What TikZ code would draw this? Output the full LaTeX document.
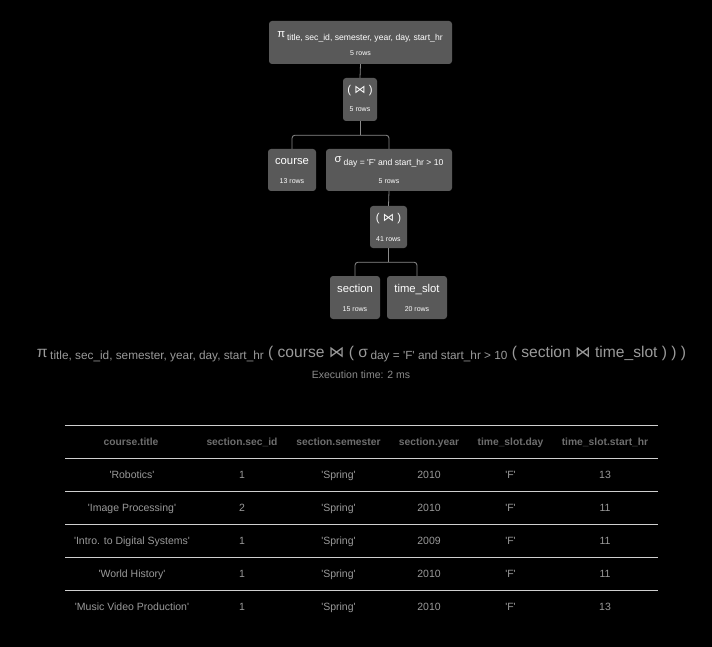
\documentclass[tikz,border=0pt]{standalone}
\usepackage{fontspec}
\usetikzlibrary{calc}
\setmainfont{Liberation Sans}[Ligatures=TeXOff]
\newfontfamily\dv{DejaVu Sans}
\newcommand{\sq}{'}
\newcommand{\bt}{{\dv ⋈}}
\definecolor{boxc}{HTML}{595959}
\definecolor{connc}{HTML}{8A8A8A}
\definecolor{exprc}{HTML}{9A9A9A}
\definecolor{execc}{HTML}{8C8C8C}
\definecolor{headc}{HTML}{6E6E6E}
\definecolor{cellc}{HTML}{9A9A9A}
\definecolor{rulec}{HTML}{CFCFCF}
\tikzset{
  opbox/.style={fill=boxc, draw=none, rounded corners=3pt, inner sep=0pt},
  ttl/.style={text=white, anchor=base, inner sep=0pt, font=\fontsize{11.3}{12}\selectfont},
  rws/.style={text=white, anchor=base, inner sep=0pt, font=\fontsize{7}{8}\selectfont},
  conn/.style={draw=connc, line width=0.8pt, rounded corners=3pt},
  hd/.style={text=headc, anchor=base, inner sep=0pt, font=\fontsize{10.3}{12}\selectfont\bfseries},
  cl/.style={text=cellc, anchor=base, inner sep=0pt, font=\fontsize{10.5}{12}\selectfont},
  rl/.style={draw=rulec, line width=0.8pt},
}
\begin{document}
\begin{tikzpicture}[x=1pt,y=-1pt]
\useasboundingbox (0,0) rectangle (712,647);
\fill[black] (0,0) rectangle (712,647);
% boxes
\node[opbox, minimum width=183pt, minimum height=43pt] (root) at (360.5,42.5) {};
\node[opbox, minimum width=34pt, minimum height=43pt] (j1) at (360,99.5) {};
\node[opbox, minimum width=48pt, minimum height=42pt] (course) at (292,170) {};
\node[opbox, minimum width=126pt, minimum height=42pt] (sig) at (389,170) {};
\node[opbox, minimum width=37pt, minimum height=42pt] (j2) at (388.5,227) {};
\node[opbox, minimum width=50pt, minimum height=43pt] (sec) at (355,297.5) {};
\node[opbox, minimum width=60pt, minimum height=43pt] (ts) at (417,297.5) {};
% box texts
\node[ttl] (rootT) at (360,38) {π\,\raisebox{-3pt}{\fontsize{8.6}{9}\selectfont title, sec\_id, semester, year, day, start\_hr}};
\node[rws] (rootR) at (360.5,55.5) {5 rows};
\node[ttl] (j1T) at (360,94) {( \bt\ )};
\node[rws] (j1R) at (360,112) {5 rows};
\node[ttl] (courseT) at (292,165) {course};
\node[rws] (courseR) at (292,184) {13 rows};
\node[ttl] (sigT) at (389,163) {σ\,\raisebox{-3pt}{\fontsize{8.6}{9}\selectfont day = \sq F\sq\ and start\_hr > 10}};
\node[rws] (sigR) at (389,184) {5 rows};
\node[ttl] (j2T) at (388.5,222) {( \bt\ )};
\node[rws] (j2R) at (388.5,241) {41 rows};
\node[ttl] (secT) at (355,292) {section};
\node[rws] (secR) at (355,311) {15 rows};
\node[ttl] (tsT) at (417,292) {time\_slot};
\node[rws] (tsR) at (417,311) {20 rows};
% connectors
\coordinate (b1) at ($(j1.south)+(0,14)$);
\coordinate (b2) at ($(j2.south)+(0,14)$);
\draw[conn] (root.south) -- (j1.north);
\draw[conn] (j1.south) -- (b1);
\draw[conn] (course.north) |- (b1) -| (sig.north);
\draw[conn] (sig.south) -- (j2.north);
\draw[conn] (j2.south) -- (b2);
\draw[conn] (sec.north) |- (b2) -| (ts.north);
% expression
\node[text=exprc, anchor=base, inner sep=0pt, font=\fontsize{15.6}{16}\selectfont] (expr) at (361.5,357)
 {π\,\raisebox{-2.5pt}{\fontsize{11.8}{12}\selectfont title, sec\_id, semester, year, day, start\_hr} ( course \bt\ ( σ\,\raisebox{-2.5pt}{\fontsize{11.8}{12}\selectfont day = \sq F\sq\ and start\_hr > 10} ( section \bt\ time\_slot ) ) )};
\node[text=execc, anchor=base, inner sep=0pt, font=\fontsize{10.5}{12}\selectfont] (exec) at (361,378) {Execution time: 2 ms};
% table rules
\coordinate (L0) at (65,425); \coordinate (R0) at (658,425);
\coordinate (L1) at (65,458); \coordinate (R1) at (658,458);
\coordinate (L2) at (65,491); \coordinate (R2) at (658,491);
\coordinate (L3) at (65,524); \coordinate (R3) at (658,524);
\coordinate (L4) at (65,557); \coordinate (R4) at (658,557);
\coordinate (L5) at (65,590); \coordinate (R5) at (658,590);
\draw[rl] (L0) -- (R0);
\draw[rl] (L1) -- (R1);
\draw[rl] (L2) -- (R2);
\draw[rl] (L3) -- (R3);
\draw[rl] (L4) -- (R4);
\draw[rl] (L5) -- (R5);
% header
\node[hd] (h1) at (131,445) {course.title};
\node[hd] (h2) at (242,445) {section.sec\_id};
\node[hd] (h3) at (338.5,445) {section.semester};
\node[hd] (h4) at (429,445) {section.year};
\node[hd] (h5) at (510.5,445) {time\_slot.day};
\node[hd] (h6) at (605,445) {time\_slot.start\_hr};
% rows
\node[cl] (a1) at (132,478) {\sq Robotics\sq};
\node[cl] (b1r) at (242,478) {1};
\node[cl] (c1) at (338.5,478) {\sq Spring\sq};
\node[cl] (d1) at (429,478) {2010};
\node[cl] (e1) at (510.5,478) {\sq F\sq};
\node[cl] (f1) at (605,478) {13};
\node[cl] (a2) at (132,511) {\sq Image Processing\sq};
\node[cl] (b2r) at (242,511) {2};
\node[cl] (c2) at (338.5,511) {\sq Spring\sq};
\node[cl] (d2) at (429,511) {2010};
\node[cl] (e2) at (510.5,511) {\sq F\sq};
\node[cl] (f2) at (605,511) {11};
\node[cl] (a3) at (132,544) {\sq Intro. to Digital Systems\sq};
\node[cl] (b3r) at (242,544) {1};
\node[cl] (c3) at (338.5,544) {\sq Spring\sq};
\node[cl] (d3) at (429,544) {2009};
\node[cl] (e3) at (510.5,544) {\sq F\sq};
\node[cl] (f3) at (605,544) {11};
\node[cl] (a4) at (132,577) {\sq World History\sq};
\node[cl] (b4r) at (242,577) {1};
\node[cl] (c4) at (338.5,577) {\sq Spring\sq};
\node[cl] (d4) at (429,577) {2010};
\node[cl] (e4) at (510.5,577) {\sq F\sq};
\node[cl] (f4) at (605,577) {11};
\node[cl] (a5) at (132,610) {\sq Music Video Production\sq};
\node[cl] (b5r) at (242,610) {1};
\node[cl] (c5) at (338.5,610) {\sq Spring\sq};
\node[cl] (d5) at (429,610) {2010};
\node[cl] (e5) at (510.5,610) {\sq F\sq};
\node[cl] (f5) at (605,610) {13};
\end{tikzpicture}
\end{document}
